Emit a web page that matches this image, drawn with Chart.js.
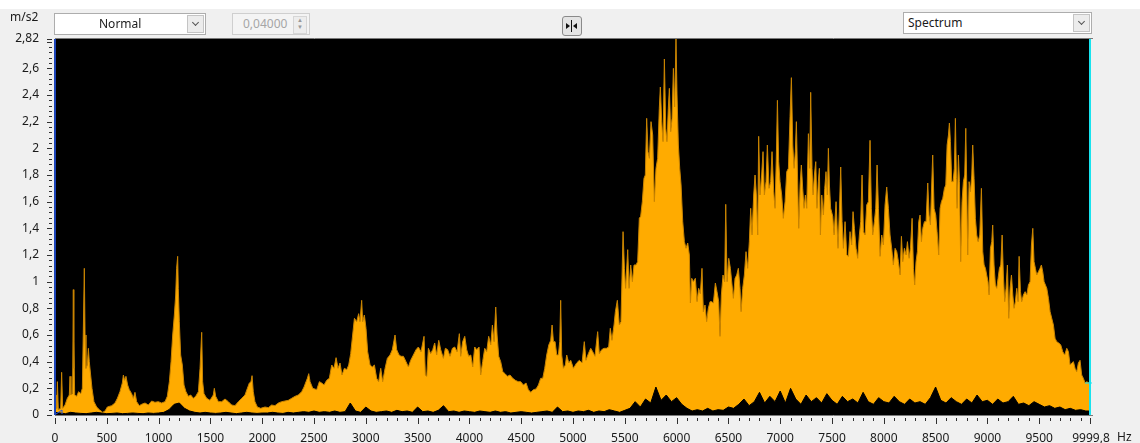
<!DOCTYPE html>
<html>
<head>
<meta charset="utf-8">
<script src="https://cdn.jsdelivr.net/npm/chart.js@4.4.0/dist/chart.umd.min.js"></script>
<style>
    body {
        margin: 0;
        width: 1140px;
        height: 443px;
        overflow: hidden;
        position: relative;
        background: #f0f0f0;
        font-family: "Noto Sans", sans-serif;
        font-size: 12px;
        color: #1a1a1a;
    }
    #spectrum { position: absolute; left: 0; top: 0; }
    .topStrip { position: absolute; left: 0; top: 0; width: 1140px; height: 9px; background: #fff; }
    .unit { position: absolute; left: 10px; top: 8px; }
    .hz { position: absolute; left: 1117px; top: 428px; }
    .combo {
        position: absolute;
        height: 22px;
        box-sizing: border-box;
        background: #fff;
        border: 1px solid #adadad;
        line-height: 19px;
    }
    .combo .arrow {
        position: absolute;
        right: 1px;
        top: 1px;
        width: 17px;
        height: 18px;
        box-sizing: border-box;
        border: 1px solid #c4c4c4;
        background: #ececec;
    }
    .combo .arrow::after {
        content: "";
        position: absolute;
        left: 5px;
        top: 4px;
        width: 4px;
        height: 4px;
        border-right: 1px solid #555;
        border-bottom: 1px solid #555;
        transform: rotate(45deg);
    }
    .spin {
        position: absolute;
        left: 232px;
        top: 13px;
        width: 78px;
        height: 22px;
        box-sizing: border-box;
        background: #f4f4f4;
        border: 1px solid #cfcfcf;
        color: #a6a6a6;
        line-height: 19px;
        padding-left: 10px;
    }
    .spin .btns {
        position: absolute;
        right: 2px;
        top: 2px;
        width: 12px;
        height: 16px;
        border: 1px solid #d6d6d6;
        background: #ededed;
        font-size: 6px;
        line-height: 7px;
        text-align: center;
        color: #999;
    }
    .fitBtn {
        position: absolute;
        left: 562px;
        top: 16px;
        width: 20px;
        height: 20px;
        box-sizing: border-box;
        border: 1px solid #8a8a8a;
        border-radius: 3px;
        background: #e4e4e4;
    }
    .fitBtn .bar { position: absolute; left: 8px; top: 3px; width: 1px; height: 12px; background: #111; }
    .fitBtn .tl { position: absolute; left: 3px; top: 6px; border-left: 4px solid #111; border-top: 3px solid transparent; border-bottom: 3px solid transparent; }
    .fitBtn .tr { position: absolute; left: 10px; top: 6px; border-right: 4px solid #111; border-top: 3px solid transparent; border-bottom: 3px solid transparent; }
</style>
</head>
<body>
<div class="topStrip"></div>
<canvas id="spectrum" width="1140" height="443"></canvas>
<div class="unit">m/s2</div>
<div class="combo" style="left:54px; top:13px; width:152px;">
    <span style="position:absolute; left:44px;">Normal</span>
    <div class="arrow"></div>
</div>
<div class="spin">0,04000<div class="btns">&#9650;<br>&#9660;</div></div>
<div class="fitBtn"><div class="tl"></div><div class="bar"></div><div class="tr"></div></div>
<div class="combo" style="left:903px; top:12px; width:189px;">
    <span style="position:absolute; left:4px;">Spectrum</span>
    <div class="arrow"></div>
</div>
<div class="hz">Hz</div>

<script>
// Spectrum readings (Hz / m/s2), split into four bands
const freqBandA = [
    0, 10, 16, 23, 32, 55, 64, 74, 97, 119,
    138, 145, 154, 170, 177, 180, 183, 190, 209, 228,
    248, 264, 273, 283, 290, 299, 312, 322, 331, 344,
    357, 376, 402, 428, 460, 483, 505, 547, 579, 602,
    627, 650, 660, 672, 685, 701, 717, 740, 756, 772,
    788, 814, 836, 869, 901, 933, 965, 997, 1029, 1062,
    1084, 1104, 1120, 1136, 1152, 1165, 1174, 1184, 1190, 1200,
    1213, 1229, 1245, 1264, 1287, 1310, 1335, 1358, 1384, 1400,
    1416, 1425, 1438, 1464, 1496, 1528, 1538, 1551, 1577, 1609,
    1641, 1673, 1705, 1737, 1770, 1802, 1834, 1857, 1876, 1892,
    1902, 1914, 1930, 1953, 1985, 2027, 2059, 2091, 2123, 2156,
    2188, 2220, 2252, 2284, 2317, 2349, 2381, 2404, 2423, 2436,
    2449, 2462, 2488
];
const ampBandA = [
    0.05, 0.15, 0.05, 0.25, 0.04, 0.05, 0.32, 0.05, 0.075, 0.125,
    0.15, 0.29, 0.15, 0.16, 0.94, 0.35, 0.55, 0.15, 0.14, 0.175,
    0.16, 0.2, 0.62, 1.10, 0.6, 0.35, 0.375, 0.5, 0.4, 0.3,
    0.2, 0.1, 0.06, 0.04, 0.02, 0.03, 0.06, 0.07, 0.09, 0.125,
    0.175, 0.24, 0.3, 0.26, 0.29, 0.225, 0.19, 0.16, 0.125, 0.17,
    0.1, 0.07, 0.08, 0.09, 0.075, 0.105, 0.095, 0.1, 0.09, 0.1,
    0.14, 0.25, 0.4, 0.6, 0.75, 0.9, 1.1, 1.19, 0.95, 0.7,
    0.45, 0.375, 0.225, 0.175, 0.14, 0.15, 0.125, 0.14, 0.175, 0.35,
    0.62, 0.25, 0.16, 0.125, 0.11, 0.15, 0.2, 0.14, 0.1, 0.1,
    0.12, 0.1, 0.075, 0.07, 0.1, 0.125, 0.15, 0.2, 0.24, 0.25,
    0.295, 0.175, 0.1, 0.06, 0.05, 0.06, 0.055, 0.075, 0.07, 0.09,
    0.1, 0.105, 0.11, 0.125, 0.14, 0.15, 0.175, 0.21, 0.25, 0.275,
    0.31, 0.25, 0.2
];

const freqBandB = [
    2526, 2552, 2574, 2597, 2622, 2648, 2671, 2693, 2713, 2732,
    2751, 2770, 2793, 2816, 2835, 2854, 2873, 2890, 2912, 2931,
    2944, 2960, 2970, 2986, 3002, 3018, 3041, 3063, 3083, 3105,
    3124, 3144, 3163, 3186, 3208, 3234, 3256, 3282, 3298, 3321,
    3340, 3363, 3388, 3411, 3433, 3459, 3485, 3507, 3533, 3562,
    3575, 3588, 3604, 3626, 3646, 3665, 3684, 3704, 3723, 3749,
    3768, 3790, 3813, 3836, 3858, 3881, 3903, 3916, 3935, 3955,
    3974, 3993, 4013, 4032, 4051, 4071, 4093, 4109, 4128, 4148,
    4167, 4186, 4206, 4222, 4238, 4254, 4267, 4283, 4302, 4322,
    4344, 4367, 4392, 4418, 4444, 4470, 4495, 4521, 4547, 4569,
    4592, 4618, 4643, 4666, 4688, 4708, 4727, 4746, 4766, 4785,
    4798, 4811, 4827, 4843, 4859, 4872, 4881, 4891, 4907, 4926,
    4939, 4959, 4978, 5004
];
const ampBandB = [
    0.19, 0.25, 0.24, 0.225, 0.26, 0.275, 0.375, 0.35, 0.43, 0.35,
    0.39, 0.3, 0.35, 0.34, 0.375, 0.46, 0.6, 0.725, 0.7, 0.76,
    0.7, 0.86, 0.7, 0.75, 0.65, 0.475, 0.375, 0.36, 0.375, 0.275,
    0.25, 0.35, 0.25, 0.35, 0.425, 0.45, 0.49, 0.6, 0.49, 0.45,
    0.44, 0.44, 0.4, 0.36, 0.41, 0.45, 0.49, 0.51, 0.475, 0.59,
    0.3, 0.29, 0.5, 0.46, 0.49, 0.54, 0.45, 0.56, 0.49, 0.425,
    0.5, 0.49, 0.44, 0.5, 0.51, 0.475, 0.61, 0.44, 0.55, 0.59,
    0.49, 0.44, 0.45, 0.36, 0.51, 0.49, 0.51, 0.3, 0.4, 0.5,
    0.475, 0.59, 0.525, 0.675, 0.55, 0.81, 0.6, 0.44, 0.4, 0.325,
    0.31, 0.29, 0.3, 0.275, 0.26, 0.25, 0.25, 0.225, 0.24, 0.19,
    0.17, 0.19, 0.195, 0.225, 0.275, 0.275, 0.35, 0.45, 0.525, 0.56,
    0.675, 0.55, 0.55, 0.45, 0.45, 0.55, 0.86, 0.45, 0.35, 0.375,
    0.45, 0.39, 0.41, 0.35
];

const freqBandC = [
    5035, 5061, 5087, 5109, 5125, 5148, 5171, 5190, 5212, 5238,
    5254, 5277, 5299, 5322, 5344, 5360, 5376, 5396, 5409, 5428,
    5447, 5463, 5483, 5496, 5508, 5528, 5541, 5557, 5573, 5589,
    5608, 5624, 5640, 5653, 5669, 5685, 5698, 5711, 5724, 5737,
    5753, 5769, 5785, 5801, 5817, 5833, 5843, 5856, 5869, 5882,
    5895, 5907, 5920, 5930, 5943, 5956, 5969, 5981, 5994, 6004,
    6017, 6030, 6043, 6059, 6075, 6091, 6107, 6123, 6133, 6146,
    6162, 6181, 6197, 6213, 6229, 6245, 6258, 6274, 6290, 6306,
    6323, 6339, 6355, 6374, 6390, 6406, 6419, 6432, 6448, 6464,
    6474, 6487, 6503, 6519, 6535, 6548, 6564, 6580, 6596, 6612,
    6622, 6638, 6654, 6670, 6686, 6702, 6715, 6728, 6744, 6757,
    6770, 6783, 6792, 6805, 6821, 6834, 6847, 6863, 6876, 6892,
    6908, 6921, 6937, 6950, 6963, 6973, 6985, 6998, 7014, 7030,
    7047, 7063, 7079, 7095, 7108, 7121, 7134, 7146, 7156, 7169,
    7179, 7192, 7204, 7217, 7230, 7243, 7256, 7272, 7285, 7294,
    7307, 7317, 7330, 7343, 7355, 7368, 7378, 7388, 7401, 7417,
    7430, 7442, 7455, 7465, 7475, 7487, 7507
];
const ampBandC = [
    0.39, 0.41, 0.39, 0.55, 0.41, 0.46, 0.5, 0.475, 0.44, 0.625,
    0.46, 0.49, 0.5, 0.5, 0.51, 0.65, 0.56, 0.675, 0.775, 0.86,
    0.675, 0.7, 1.375, 1.1, 0.95, 1.24, 0.95, 1.125, 1.0, 1.125,
    1.125, 1.15, 1.475, 1.49, 1.6, 1.775, 1.8, 2.225, 1.975, 1.925,
    2.2, 2.1, 1.6, 1.85, 1.925, 2.3, 2.46, 2.2, 2.05, 2.67,
    2.15, 2.05, 2.3, 2.45, 2.125, 2.225, 2.6, 2.31, 2.82, 2.4,
    2.025, 1.85, 1.725, 1.45, 1.3, 1.25, 1.29, 1.2, 0.84, 1.025,
    1.0, 1.025, 0.85, 0.95, 0.91, 1.1, 0.775, 0.825, 0.7, 0.8,
    0.85, 0.85, 0.84, 0.99, 0.925, 0.85, 0.59, 0.9, 1.05, 1.0,
    1.58, 1.0, 1.175, 1.1, 0.975, 0.875, 1.025, 1.05, 1.1, 0.95,
    0.775, 0.95, 1.05, 1.225, 1.1, 1.3, 1.55, 1.35, 1.65, 1.8,
    1.65, 1.35, 2.09, 1.65, 1.8, 1.975, 1.65, 1.75, 2.025, 1.7,
    1.75, 1.975, 1.675, 1.55, 1.95, 2.36, 1.9, 1.75, 1.65, 1.475,
    1.6, 1.825, 1.85, 2.24, 2.53, 2.025, 1.85, 1.975, 2.2, 1.725,
    1.4, 1.725, 1.875, 1.7, 1.55, 1.65, 1.55, 2.11, 1.85, 2.42,
    1.85, 1.65, 1.8, 1.9, 1.55, 1.75, 1.85, 1.35, 1.65, 1.5,
    1.7, 1.825, 1.65, 2.0, 1.725, 1.55, 1.49
];

const freqBandD = [
    7520, 7539, 7558, 7571, 7584, 7597, 7610, 7626, 7642, 7658,
    7674, 7690, 7703, 7716, 7732, 7748, 7764, 7777, 7790, 7803,
    7819, 7835, 7851, 7867, 7880, 7893, 7909, 7922, 7935, 7948,
    7964, 7980, 7996, 8012, 8028, 8044, 8060, 8076, 8092, 8109,
    8125, 8141, 8157, 8170, 8183, 8199, 8215, 8228, 8244, 8257,
    8273, 8286, 8298, 8311, 8324, 8337, 8350, 8363, 8376, 8392,
    8408, 8424, 8437, 8450, 8462, 8472, 8485, 8501, 8514, 8530,
    8543, 8556, 8569, 8585, 8598, 8611, 8624, 8633, 8643, 8656,
    8669, 8681, 8691, 8701, 8707, 8720, 8730, 8742, 8755, 8768,
    8781, 8791, 8800, 8810, 8823, 8836, 8849, 8858, 8871, 8884,
    8897, 8910, 8926, 8942, 8955, 8968, 8981, 8993, 9006, 9016,
    9029, 9042, 9051, 9064, 9077, 9090, 9103, 9116, 9129, 9142,
    9154, 9167, 9180, 9193, 9206, 9219, 9232, 9245, 9257, 9270,
    9283, 9296, 9306, 9319, 9331, 9347, 9364, 9380, 9396, 9412,
    9425, 9438, 9450, 9463, 9476, 9492, 9508, 9521, 9534, 9547,
    9560, 9573, 9589, 9605, 9621, 9637, 9653, 9669, 9689, 9708,
    9727, 9746, 9766, 9782, 9798, 9814, 9830, 9846, 9862, 9878,
    9894, 9910, 9926, 9943, 9959, 9981, 9999.8
];
const ampBandD = [
    1.35, 1.6, 1.25, 1.525, 1.86, 1.45, 1.25, 1.45, 1.2, 1.19,
    1.375, 1.275, 1.525, 1.4, 1.25, 1.175, 1.35, 1.45, 1.8, 1.375,
    1.35, 1.575, 1.6, 2.06, 1.55, 1.35, 1.45, 1.55, 1.875, 1.55,
    1.19, 1.35, 1.275, 1.575, 1.71, 1.55, 1.35, 1.25, 1.125, 1.25,
    1.225, 1.15, 1.05, 1.34, 1.15, 1.25, 1.2, 1.3, 1.175, 1.25,
    1.475, 1.1, 0.975, 1.15, 1.225, 1.45, 1.5, 1.3, 1.4, 1.45,
    1.45, 1.74, 1.5, 1.425, 1.725, 1.95, 1.55, 1.5, 1.375, 1.2,
    1.55, 1.6, 1.625, 1.7, 1.725, 2.025, 2.1, 2.19, 2.05, 1.75,
    1.75, 1.85, 2.225, 1.775, 1.55, 1.95, 1.75, 1.15, 1.6, 1.75,
    1.8, 2.15, 1.75, 1.2, 1.75, 1.675, 1.8, 2.025, 1.775, 1.475,
    1.35, 1.3, 1.35, 1.7, 1.225, 1.125, 1.1, 1.05, 1.0, 0.9,
    1.25, 1.3, 1.425, 1.125, 0.975, 0.95, 1.025, 1.1, 1.125, 1.35,
    1.05, 0.85, 0.95, 1.125, 0.725, 0.95, 1.05, 0.9, 0.8, 0.85,
    0.95, 0.85, 1.19, 0.925, 0.85, 0.9, 0.925, 0.9, 0.975, 1.0,
    1.275, 1.4, 1.15, 1.1, 1.05, 1.075, 1.1, 1.125, 1.075, 1.0,
    0.975, 0.95, 0.875, 0.775, 0.725, 0.675, 0.575, 0.55, 0.54, 0.525,
    0.475, 0.45, 0.5, 0.475, 0.375, 0.39, 0.4, 0.35, 0.325, 0.39,
    0.41, 0.3, 0.275, 0.24, 0.25, 0.24, 0.24
];

// Lower (black) trace, one reading every 50 Hz from 0 to 10000
const floorStepHz = 50;
const floorAmp = [
    0.02, 0.015, 0.01, 0.02, 0.015, 0.012, 0.01, 0.015, 0.02, 0.015,
    0.01, 0.012, 0.015, 0.01, 0.012, 0.015, 0.012, 0.01, 0.015, 0.012, 0.015,
    0.02, 0.04, 0.08, 0.09, 0.05, 0.03, 0.02, 0.015, 0.02, 0.015,
    0.012, 0.015, 0.02, 0.015, 0.01, 0.015, 0.02, 0.015, 0.012, 0.015,
    0.015, 0.02, 0.015, 0.012, 0.02, 0.015, 0.02, 0.025, 0.02, 0.03,
    0.02, 0.025, 0.02, 0.03, 0.02, 0.025, 0.09, 0.03, 0.02, 0.06,
    0.03, 0.02, 0.025, 0.03, 0.02, 0.035, 0.025, 0.03, 0.02, 0.06,
    0.025, 0.03, 0.02, 0.035, 0.07, 0.025, 0.03, 0.02, 0.03, 0.025,
    0.02, 0.03, 0.025, 0.02, 0.03, 0.02, 0.025, 0.015, 0.02, 0.025,
    0.02, 0.015, 0.02, 0.025, 0.03, 0.02, 0.06, 0.025, 0.03, 0.02,
    0.03, 0.025, 0.035, 0.02, 0.03, 0.025, 0.04, 0.03, 0.02, 0.035,
    0.05, 0.1, 0.06, 0.12, 0.09, 0.21, 0.11, 0.15, 0.1, 0.13,
    0.08, 0.05, 0.03, 0.04, 0.03, 0.05, 0.03, 0.04, 0.035, 0.06,
    0.05, 0.08, 0.12, 0.07, 0.1, 0.17, 0.09, 0.14, 0.1, 0.18,
    0.09, 0.2, 0.12, 0.08, 0.15, 0.1, 0.13, 0.09, 0.16, 0.11,
    0.08, 0.14, 0.1, 0.12, 0.09, 0.17, 0.1, 0.08, 0.13, 0.1,
    0.09, 0.14, 0.1, 0.08, 0.12, 0.09, 0.1, 0.08, 0.13, 0.21,
    0.11, 0.09, 0.13, 0.1, 0.08, 0.12, 0.09, 0.15, 0.1, 0.11,
    0.08, 0.12, 0.09, 0.1, 0.14, 0.08, 0.09, 0.07, 0.1, 0.08,
    0.06, 0.07, 0.05, 0.06, 0.04, 0.05, 0.035, 0.04, 0.03, 0.03
];

// Axis ticks
const xTickValues = [0, 500, 1000, 1500, 2000, 2500, 3000, 3500, 4000, 4500,
    5000, 5500, 6000, 6500, 7000, 7500, 8000, 8500, 9000, 9500, 9999.8];
const yTickValues = [0, 0.2, 0.4, 0.6, 0.8, 1, 1.2, 1.4, 1.6, 1.8, 2, 2.2, 2.4, 2.6, 2.82];
const xMax = 9999.8;
const yMax = 2.82;

const commaNumber = (v) => String(v).replace('.', ',');


/* Draws the black plot background, axis ticks and cursor lines
*/
const spectrumFrame = {
    id: 'spectrumFrame',
    beforeDraw(chart) {
        const { ctx, chartArea: a } = chart;
        ctx.save();
        ctx.fillStyle = '#000';
        ctx.fillRect(a.left, a.top, a.right - a.left, a.bottom - a.top);
        ctx.restore();
    },
    afterDraw(chart) {
        const { ctx, chartArea: a, scales } = chart;
        const xs = scales.x;
        const ys = scales.y;
        ctx.save();
        ctx.lineWidth = 1;

        // frame lines
        ctx.strokeStyle = '#7a7a7a';
        ctx.beginPath();
        ctx.moveTo(a.left, a.top - 0.5);
        ctx.lineTo(a.right + 2, a.top - 0.5);
        ctx.moveTo(a.left, a.bottom + 0.5);
        ctx.lineTo(a.right + 2, a.bottom + 0.5);
        ctx.stroke();

        // x ticks, minor every 100 Hz
        ctx.strokeStyle = '#303030';
        ctx.beginPath();
        for (let f = 0; f < xMax; f += 100) {
            const px = Math.round(xs.getPixelForValue(f)) + 0.5;
            const len = f % 500 === 0 ? 6 : 3;
            ctx.moveTo(px, a.bottom + 3);
            ctx.lineTo(px, a.bottom + 3 + len);
        }
        const pxEnd = Math.round(xs.getPixelForValue(xMax)) - 0.5;
        ctx.moveTo(pxEnd, a.bottom + 3);
        ctx.lineTo(pxEnd, a.bottom + 9);
        ctx.stroke();

        // y ticks, minor every 0.04
        ctx.beginPath();
        for (let i = 0; i <= 70; i++) {
            const py = Math.round(ys.getPixelForValue(i * 0.04)) + 0.5;
            const len = i % 5 === 0 ? 5 : 3;
            ctx.moveTo(a.left - 3 - len, py);
            ctx.lineTo(a.left - 3, py);
        }
        const pyTop = Math.round(ys.getPixelForValue(yMax)) + 0.5;
        ctx.moveTo(a.left - 8, pyTop);
        ctx.lineTo(a.left - 3, pyTop);
        ctx.stroke();

        // left (blue) and right (cyan) cursors
        const xl = xs.getPixelForValue(0);
        const xr = xs.getPixelForValue(xMax);
        ctx.fillStyle = '#1c44b8';
        ctx.fillRect(xl - 1, a.top, 2, a.bottom - a.top);
        ctx.fillStyle = '#19e3ee';
        ctx.fillRect(xr - 2, a.top, 2, a.bottom - a.top);

        // cursor markers on the curve
        const lastAmp = ampBandD[ampBandD.length - 1];
        const my = ys.getPixelForValue(lastAmp);
        ctx.strokeStyle = '#19e3ee';
        ctx.beginPath();
        ctx.moveTo(xr - 6, my);
        ctx.lineTo(xr + 1, my);
        ctx.stroke();
        ctx.strokeStyle = '#2a5ae0';
        ctx.beginPath();
        ctx.moveTo(xl + 1, a.bottom - 1);
        ctx.lineTo(xl + 7, a.bottom - 5);
        ctx.lineTo(xl + 7, a.bottom - 1);
        ctx.stroke();
        ctx.restore();
    }
};


/* Builds the spectrum chart
*/
const buildSpectrum = () => {
    const freqs = freqBandA.concat(freqBandB, freqBandC, freqBandD);
    const amps = ampBandA.concat(ampBandB, ampBandC, ampBandD);
    const spectrumPoints = freqs.map((f, i) => ({ x: f, y: amps[i] }));
    const floorPoints = floorAmp.map((v, i) => ({ x: Math.min(i * floorStepHz, xMax), y: v }));

    const tickFont = { family: '"Noto Sans", sans-serif', size: 12 };

    const config = {
        type: 'line',
        data: {
            datasets: [{
                label: 'Floor',
                data: floorPoints,
                order: 0,
                fill: 'origin',
                backgroundColor: '#000',
                borderColor: '#000',
                borderWidth: 1,
                pointRadius: 0
            }, {
                label: 'Spectrum',
                data: spectrumPoints,
                order: 1,
                fill: 'origin',
                backgroundColor: '#ffab00',
                borderColor: '#c98400',
                borderWidth: 1,
                pointRadius: 0
            }]
        },
        options: {
            responsive: false,
            animation: false,
            devicePixelRatio: 1,
            layout: { padding: { top: 39, right: 49, left: 0, bottom: 0 } },
            elements: { line: { tension: 0 } },
            plugins: {
                legend: { display: false },
                tooltip: { enabled: false }
            },
            scales: {
                x: {
                    type: 'linear',
                    min: 0,
                    max: xMax,
                    grid: { display: false },
                    border: { display: false },
                    afterBuildTicks: (scale) => {
                        scale.ticks = xTickValues.map(v => ({ value: v }));
                    },
                    afterFit: (scale) => { scale.height = 28; },
                    ticks: {
                        autoSkip: false,
                        maxRotation: 0,
                        padding: 8,
                        color: '#1a1a1a',
                        font: tickFont,
                        callback: (v) => commaNumber(v)
                    }
                },
                y: {
                    min: 0,
                    max: yMax,
                    grid: { display: false },
                    border: { display: false },
                    afterBuildTicks: (scale) => {
                        scale.ticks = yTickValues.map(v => ({ value: v }));
                    },
                    afterFit: (scale) => { scale.width = 55; },
                    ticks: {
                        autoSkip: false,
                        padding: 8,
                        color: '#1a1a1a',
                        font: tickFont,
                        callback: (v) => commaNumber(v)
                    }
                }
            }
        },
        plugins: [spectrumFrame]
    };

    const ctx = document.getElementById('spectrum').getContext('2d');
    const spectrumChart = new Chart(ctx, config);
}

document.addEventListener("DOMContentLoaded", () => {
    buildSpectrum();
});
</script>
</body>
</html>
